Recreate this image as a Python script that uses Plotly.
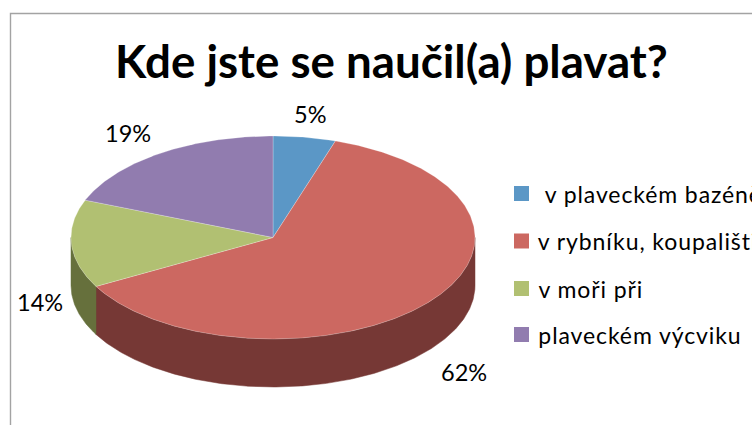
import math
import plotly.graph_objects as go

categories = [" v plaveckém bazéně", "v rybníku, koupališti", "v moři při", "plaveckém výcviku"]
values = [5, 62, 14, 19]
title_text = "Kde jste se naučil(a) plavat?"
top_colors = ["#5B97C6", "#CC6861", "#B1C072", "#917CAF"]
side_colors = ["#3A617F", "#763835", "#66703C", "#5D4F70"]

W, H = 752, 425
CX, CY, RX, RY, DEPTH = 273, 237.5, 202, 101.5, 48
label_pos = [(310, 114), (128, 133), (40, 302), (464, 372)]
label_order = [0, 3, 2, 1]
legend_x, legend_ys = 514, [193.5, 241, 288.5, 334.5]
FONT = "Lato"
LEGEND_SPACING = 0.9


def arc(a0, a1):
    n = max(2, int(abs(a1 - a0) * 2) + 1)
    return [a0 + (a1 - a0) * i / (n - 1) for i in range(n)]


def pt(a, dy=0):
    r = math.radians(a)
    return CX + RX * math.sin(r), CY - RY * math.cos(r) + dy


fig = go.Figure()
total = sum(values)
spans, start = [], 0
for v in values:
    spans.append((start, start + v / total * 360))
    start += v / total * 360

# side wall: visible part of the rim is the lower half of the ellipse (90..270 deg)
for (a0, a1), col, name in zip(spans, side_colors, categories):
    lo, hi = max(a0, 90), min(a1, 270)
    if lo >= hi:
        continue
    angs = arc(lo, hi)
    top = [pt(a) for a in angs]
    bot = [pt(a, DEPTH) for a in reversed(angs)]
    pts = top + bot + top[:1]
    fig.add_trace(go.Scatter(
        x=[p[0] for p in pts], y=[p[1] for p in pts], mode="lines",
        fill="toself", fillcolor=col, line=dict(color=col, width=0.5),
        hoverinfo="skip", showlegend=False, name=name + " (side)"))

# top faces
for (a0, a1), col, name in zip(spans, top_colors, categories):
    pts = [(CX, CY)] + [pt(a) for a in arc(a0, a1)] + [(CX, CY)]
    fig.add_trace(go.Scatter(
        x=[p[0] for p in pts], y=[p[1] for p in pts], mode="lines",
        fill="toself", fillcolor=col, line=dict(color="rgba(255,255,255,0.35)", width=0.7),
        hoverinfo="skip", showlegend=False, name=name))

annotations = [dict(x=W / 2 + 15.5, y=60, text=f"<b>{title_text}</b>", showarrow=False,
                    font=dict(family=FONT, size=45.7, color="#000000"))]
for idx, (lx, ly) in zip(label_order, label_pos):
    annotations.append(dict(x=lx, y=ly, text=f"{values[idx]}%", showarrow=False,
                            font=dict(family=FONT, size=23.5, color="#000000")))

shapes = [dict(type="rect", x0=10.5, y0=13.5, x1=W + 10, y1=H + 10,
               line=dict(color="#A3A3A3", width=1.4), layer="below")]
for name, col, ly in zip(categories, top_colors, legend_ys):
    shapes.append(dict(type="rect", x0=legend_x, x1=legend_x + 15, y0=ly - 7.5, y1=ly + 7.5,
                       fillcolor=col, line=dict(width=0)))
    # the letter spacing added after layout grows around the text's centre, so offset by half of it
    annotations.append(dict(x=legend_x + 22 + len(name) * LEGEND_SPACING / 2, y=ly,
                            text=name.replace(" v", "\u00a0v", 1) if name.startswith(" ") else name,
                            xanchor="left", showarrow=False,
                            font=dict(family=FONT, size=23, color="#000000")))

fig.update_layout(
    width=W, height=H, margin=dict(l=0, r=0, t=0, b=0),
    paper_bgcolor="#FFFFFF", plot_bgcolor="#FFFFFF",
    showlegend=False, annotations=annotations, shapes=shapes,
    xaxis=dict(range=[0, W], visible=False, fixedrange=True),
    yaxis=dict(range=[H, 0], visible=False, fixedrange=True),
)
post = """
document.body.style.margin='0';document.body.style.overflow='hidden';
var names = %s;
document.querySelectorAll('.annotation-text').forEach(function(t){
  var s = t.textContent.replace(/\\u00a0/g,' ').trim();
  if (names.some(function(n){return n.trim()===s;})) { t.style.letterSpacing='%spx'; }
});
""" % (repr(categories), LEGEND_SPACING)
fig.write_html("out.html", config=dict(displayModeBar=False), post_script=post)
